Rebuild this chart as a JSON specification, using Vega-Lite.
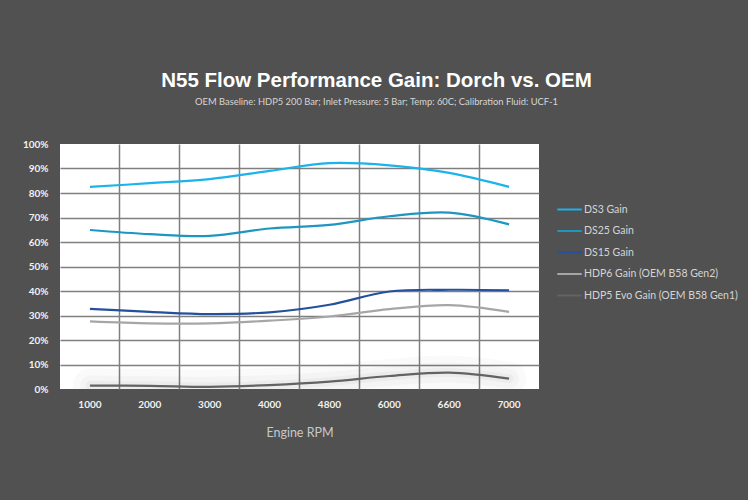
{
  "$schema": "https://vega.github.io/schema/vega-lite/v6.json",
  "width": 479,
  "height": 245,
  "autosize": {"type": "none"},
  "padding": {"left": 60, "top": 144, "right": 209, "bottom": 111},
  "background": "#515151",
  "title": {
    "text": "N55 Flow Performance Gain: Dorch vs. OEM",
    "subtitle": "OEM Baseline: HDP5 200 Bar; Inlet Pressure: 5 Bar; Temp: 60C; Calibration Fluid: UCF-1",
    "font": "Liberation Sans",
    "fontSize": 20.5,
    "fontWeight": "bold",
    "color": "#ffffff",
    "subtitleFont": "Lato",
    "subtitleFontSize": 9.35,
    "subtitleColor": "#d6d6d6",
    "subtitlePadding": 6,
    "anchor": "middle",
    "frame": "group",
    "dx": 77,
    "offset": 32
  },
  "data": {
    "values": [
      {"rpm": 1000, "series": "DS3 Gain", "gain": 0.825},
      {"rpm": 2000, "series": "DS3 Gain", "gain": 0.840},
      {"rpm": 3000, "series": "DS3 Gain", "gain": 0.857},
      {"rpm": 4000, "series": "DS3 Gain", "gain": 0.890},
      {"rpm": 4800, "series": "DS3 Gain", "gain": 0.922},
      {"rpm": 6000, "series": "DS3 Gain", "gain": 0.913},
      {"rpm": 6600, "series": "DS3 Gain", "gain": 0.882},
      {"rpm": 7000, "series": "DS3 Gain", "gain": 0.825},
      {"rpm": 1000, "series": "DS25 Gain", "gain": 0.649},
      {"rpm": 2000, "series": "DS25 Gain", "gain": 0.632},
      {"rpm": 3000, "series": "DS25 Gain", "gain": 0.625},
      {"rpm": 4000, "series": "DS25 Gain", "gain": 0.655},
      {"rpm": 4800, "series": "DS25 Gain", "gain": 0.670},
      {"rpm": 6000, "series": "DS25 Gain", "gain": 0.705},
      {"rpm": 6600, "series": "DS25 Gain", "gain": 0.720},
      {"rpm": 7000, "series": "DS25 Gain", "gain": 0.672},
      {"rpm": 1000, "series": "DS15 Gain", "gain": 0.327},
      {"rpm": 2000, "series": "DS15 Gain", "gain": 0.315},
      {"rpm": 3000, "series": "DS15 Gain", "gain": 0.306},
      {"rpm": 4000, "series": "DS15 Gain", "gain": 0.313},
      {"rpm": 4800, "series": "DS15 Gain", "gain": 0.344},
      {"rpm": 6000, "series": "DS15 Gain", "gain": 0.398},
      {"rpm": 6600, "series": "DS15 Gain", "gain": 0.405},
      {"rpm": 7000, "series": "DS15 Gain", "gain": 0.403},
      {"rpm": 1000, "series": "HDP6 Gain (OEM B58 Gen2)", "gain": 0.276},
      {"rpm": 2000, "series": "HDP6 Gain (OEM B58 Gen2)", "gain": 0.268},
      {"rpm": 3000, "series": "HDP6 Gain (OEM B58 Gen2)", "gain": 0.268},
      {"rpm": 4000, "series": "HDP6 Gain (OEM B58 Gen2)", "gain": 0.279},
      {"rpm": 4800, "series": "HDP6 Gain (OEM B58 Gen2)", "gain": 0.296},
      {"rpm": 6000, "series": "HDP6 Gain (OEM B58 Gen2)", "gain": 0.326},
      {"rpm": 6600, "series": "HDP6 Gain (OEM B58 Gen2)", "gain": 0.342},
      {"rpm": 7000, "series": "HDP6 Gain (OEM B58 Gen2)", "gain": 0.315},
      {"rpm": 1000, "series": "HDP5 Evo Gain (OEM B58 Gen1)", "gain": 0.014},
      {"rpm": 2000, "series": "HDP5 Evo Gain (OEM B58 Gen1)", "gain": 0.013},
      {"rpm": 3000, "series": "HDP5 Evo Gain (OEM B58 Gen1)", "gain": 0.009},
      {"rpm": 4000, "series": "HDP5 Evo Gain (OEM B58 Gen1)", "gain": 0.016},
      {"rpm": 4800, "series": "HDP5 Evo Gain (OEM B58 Gen1)", "gain": 0.030},
      {"rpm": 6000, "series": "HDP5 Evo Gain (OEM B58 Gen1)", "gain": 0.053},
      {"rpm": 6600, "series": "HDP5 Evo Gain (OEM B58 Gen1)", "gain": 0.067},
      {"rpm": 7000, "series": "HDP5 Evo Gain (OEM B58 Gen1)", "gain": 0.042}
    ]
  },
  "encoding": {
    "x": {
      "field": "rpm",
      "type": "ordinal",
      "bandPosition": 0.5,
      "scale": {"type": "band", "paddingInner": 0, "paddingOuter": 0},
      "axis": {
        "title": "Engine RPM",
        "titleFont": "Lato",
        "titleFontSize": 12.5,
        "titleFontWeight": "normal",
        "titleColor": "#c8c8c8",
        "titlePadding": 17,
        "labelFont": "Lato",
        "labelFontWeight": "bold",
        "labelFontSize": 10,
        "labelColor": "#f2f2f2",
        "labelAngle": 0,
        "labelPadding": 10,
        "bandPosition": 0,
        "ticks": false,
        "domain": false,
        "grid": true,
        "gridColor": "#7f7f7f",
        "gridWidth": 1.5,
        "gridOpacity": {"condition": {"test": "datum.value === 1000", "value": 0}, "value": 1}
      }
    },
    "y": {
      "field": "gain",
      "type": "quantitative",
      "scale": {"domain": [0, 1]},
      "axis": {
        "title": null,
        "format": ".0%",
        "values": [0, 0.1, 0.2, 0.3, 0.4, 0.5, 0.6, 0.7, 0.8, 0.9, 1],
        "labelFont": "Lato",
        "labelFontWeight": "bold",
        "labelFontSize": 10,
        "labelColor": "#f2f2f2",
        "labelPadding": 12,
        "ticks": false,
        "domain": false,
        "grid": true,
        "gridColor": "#7f7f7f",
        "gridWidth": 1.5,
        "gridOpacity": {"condition": {"test": "datum.value === 0 || datum.value === 1", "value": 0}, "value": 1}
      }
    }
  },
  "layer": [
    {
      "transform": [{"filter": "datum.series === 'HDP5 Evo Gain (OEM B58 Gen1)'"}],
      "mark": {"type": "line", "interpolate": "catmull-rom", "color": "#000000", "strokeWidth": 34, "opacity": 0.018, "strokeCap": "round", "clip": true}
    },
    {
      "transform": [{"filter": "datum.series === 'HDP5 Evo Gain (OEM B58 Gen1)'"}],
      "mark": {"type": "line", "interpolate": "catmull-rom", "color": "#000000", "strokeWidth": 20, "opacity": 0.025, "strokeCap": "round", "clip": true}
    },
    {
      "transform": [{"filter": "datum.series === 'HDP5 Evo Gain (OEM B58 Gen1)'"}],
      "mark": {"type": "line", "interpolate": "catmull-rom", "color": "#000000", "strokeWidth": 9, "opacity": 0.03, "strokeCap": "round", "clip": true}
    },
    {
      "mark": {"type": "line", "interpolate": "catmull-rom", "strokeWidth": 2.2},
      "encoding": {
        "color": {
          "field": "series",
          "type": "nominal",
          "scale": {
            "domain": ["DS3 Gain", "DS25 Gain", "DS15 Gain", "HDP6 Gain (OEM B58 Gen2)", "HDP5 Evo Gain (OEM B58 Gen1)"],
            "range": ["#1bb3ea", "#1d97c1", "#24509c", "#a6a6a6", "#636363"]
          },
          "legend": {
            "orient": "none",
            "legendX": 496,
            "legendY": 52,
            "title": null,
            "symbolType": "stroke",
            "symbolSize": 600,
            "symbolStrokeWidth": 2,
            "labelFont": "Lato",
            "labelFontSize": 10.5,
            "labelColor": "#d4d4d4",
            "labelOffset": 1,
            "labelLimit": 300,
            "rowPadding": 2.5
          }
        }
      }
    }
  ],
  "config": {"view": {"fill": "#ffffff", "stroke": null}}
}
